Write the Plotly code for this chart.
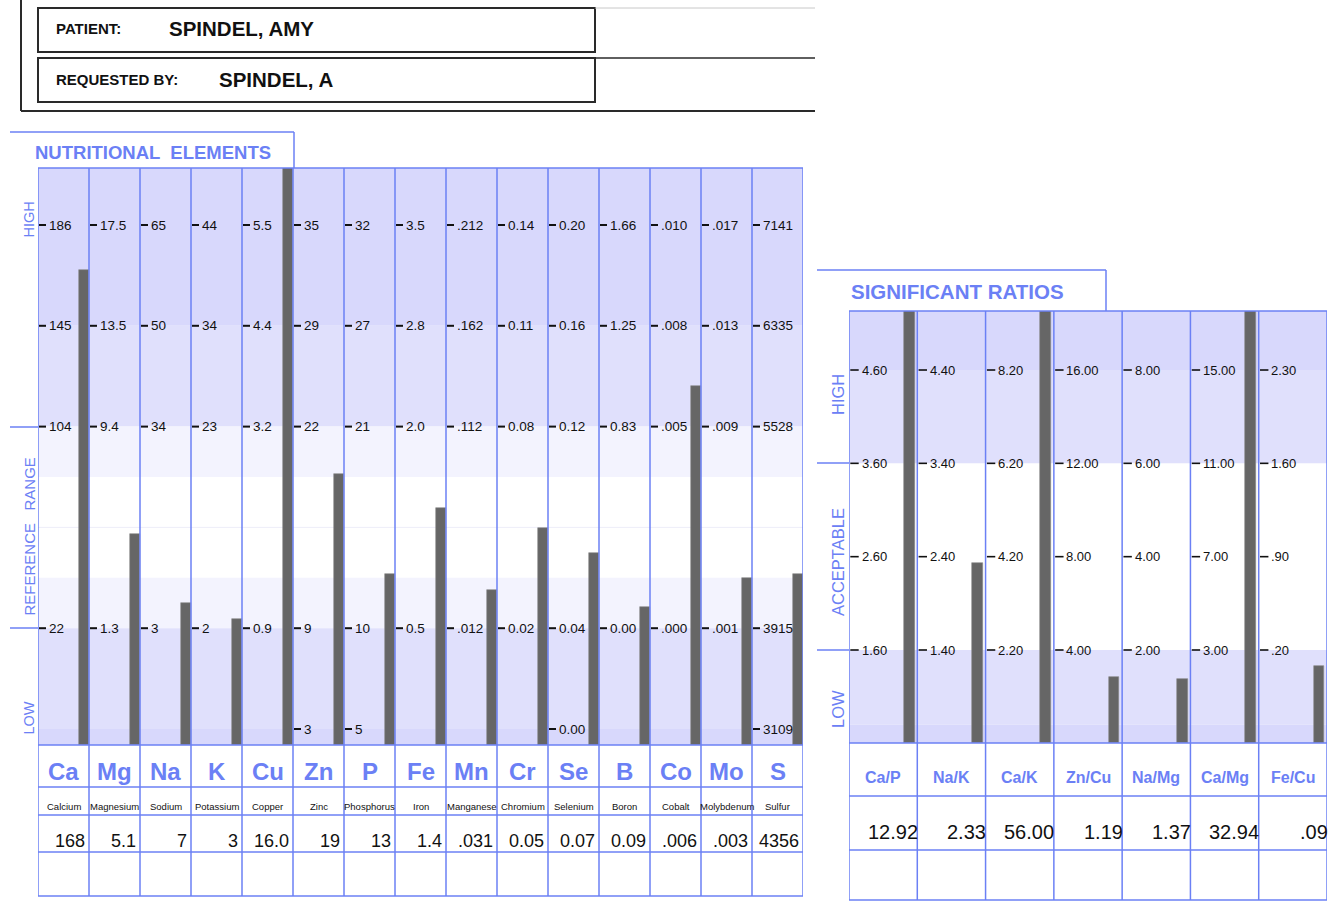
import plotly.graph_objects as go

# ---------------- data ----------------
patient_name = "SPINDEL, AMY"
requested_by = "SPINDEL, A"

elements = ["Ca", "Mg", "Na", "K", "Cu", "Zn", "P", "Fe", "Mn", "Cr", "Se", "B", "Co", "Mo", "S"]
element_names = ["Calcium", "Magnesium", "Sodium", "Potassium", "Copper", "Zinc", "Phosphorus", "Iron",
                 "Manganese", "Chromium", "Selenium", "Boron", "Cobalt", "Molybdenum", "Sulfur"]
element_results = ["168", "5.1", "7", "3", "16.0", "19", "13", "1.4", ".031", "0.05", "0.07", "0.09",
                   ".006", ".003", "4356"]
# bar top position on the graph's level scale (0 = low floor, 1 = low limit, 3 = high limit, 5 = top mark)
element_bar_level = [4.55, 1.93, 1.25, 1.09, 6.0, 2.53, 1.54, 2.19, 1.38, 1.99, 1.75, 1.21, 3.40, 1.50, 1.54]
element_tick_levels = [5, 4, 3, 1]
element_tick_labels = [
    ["186", "145", "104", "22"],
    ["17.5", "13.5", "9.4", "1.3"],
    ["65", "50", "34", "3"],
    ["44", "34", "23", "2"],
    ["5.5", "4.4", "3.2", "0.9"],
    ["35", "29", "22", "9"],
    ["32", "27", "21", "10"],
    ["3.5", "2.8", "2.0", "0.5"],
    [".212", ".162", ".112", ".012"],
    ["0.14", "0.11", "0.08", "0.02"],
    ["0.20", "0.16", "0.12", "0.04"],
    ["1.66", "1.25", "0.83", "0.00"],
    [".010", ".008", ".005", ".000"],
    [".017", ".013", ".009", ".001"],
    ["7141", "6335", "5528", "3915"],
]
element_floor_labels = {"Zn": "3", "P": "5", "Se": "0.00", "S": "3109"}

ratios = ["Ca/P", "Na/K", "Ca/K", "Zn/Cu", "Na/Mg", "Ca/Mg", "Fe/Cu"]
ratio_results = ["12.92", "2.33", "56.00", "1.19", "1.37", "32.94", ".09"]
ratio_bar_level = [4.0, 0.93, 4.0, -0.29, -0.31, 4.0, -0.17]
ratio_tick_levels = [3, 2, 1, 0]
ratio_tick_labels = [
    ["4.60", "3.60", "2.60", "1.60"],
    ["4.40", "3.40", "2.40", "1.40"],
    ["8.20", "6.20", "4.20", "2.20"],
    ["16.00", "12.00", "8.00", "4.00"],
    ["8.00", "6.00", "4.00", "2.00"],
    ["15.00", "11.00", "7.00", "3.00"],
    ["2.30", "1.60", ".90", ".20"],
]

# ---------------- geometry / style ----------------
W, H = 1344, 920
def X(px): return px / W
def Y(py): return 1 - py / H

BLUE = "#6b80f5"
BAR = "#666666"
DARK = "#d8d8fc"
MID = "#e0e0fc"
LIGHT = "#f3f3fe"
REG = "Liberation Sans, Arial, sans-serif"

# left panel pixel geometry
LX0, LX1, LYT, LYB = 38, 803, 168, 745
L_UNIT, L_ZERO = 100.8, 729
L_BOT = (L_ZERO - LYB) / L_UNIT
L_TOP = (L_ZERO - LYT) / L_UNIT
L_COLW = (LX1 - LX0) / len(elements)
# right panel pixel geometry
RX0, RX1, RYT, RYB = 849, 1327, 311, 743
R_UNIT, R_ZERO = 93.33, 650
R_BOT = (R_ZERO - RYB) / R_UNIT
R_TOP = (R_ZERO - RYT) / R_UNIT
R_COLW = (RX1 - RX0) / len(ratios)

fig = go.Figure()

# bars
nE = len(elements)
fig.add_trace(go.Bar(
    x=[i + 0.5 - 5.5 / L_COLW for i in range(nE)],
    y=[lv - L_BOT for lv in element_bar_level], base=L_BOT,
    width=10 / L_COLW, marker=dict(color=BAR, line=dict(color="#8a8a8a", width=0.6)),
    xaxis="x", yaxis="y", hoverinfo="skip", showlegend=False))
nR = len(ratios)
fig.add_trace(go.Bar(
    x=[i + 0.5 - 8.1 / R_COLW for i in range(nR)],
    y=[lv - R_BOT for lv in ratio_bar_level], base=R_BOT,
    width=10.7 / R_COLW, marker=dict(color=BAR, line=dict(color="#8a8a8a", width=0.6)),
    xaxis="x2", yaxis="y2", hoverinfo="skip", showlegend=False))

# tick dashes
lx, ly = [], []
for i, e in enumerate(elements):
    for lv in element_tick_levels:
        lx.append(i - 0.5 + 4.5 / L_COLW); ly.append(lv)
    if e in element_floor_labels:
        lx.append(i - 0.5 + 4.5 / L_COLW); ly.append(0)
fig.add_trace(go.Scatter(x=lx, y=ly, mode="markers", xaxis="x", yaxis="y",
                         marker=dict(symbol="line-ew", size=5, line=dict(color="#111", width=2)),
                         hoverinfo="skip", showlegend=False, cliponaxis=False))
rx, ry = [], []
for i in range(nR):
    for lv in ratio_tick_levels:
        rx.append(i - 0.5 + 5.5 / R_COLW); ry.append(lv)
fig.add_trace(go.Scatter(x=rx, y=ry, mode="markers", xaxis="x2", yaxis="y2",
                         marker=dict(symbol="line-ew", size=6, line=dict(color="#111", width=1.6)),
                         hoverinfo="skip", showlegend=False, cliponaxis=False))

shapes = []
annots = []

def pline(x0, y0, x1, y1, color=BLUE, width=1.5, layer="above"):
    shapes.append(dict(type="line", xref="paper", yref="paper", x0=X(x0), y0=Y(y0), x1=X(x1), y1=Y(y1),
                       line=dict(color=color, width=width), layer=layer))

def ann(x, y, text, size, color="#000", family=REG, xref="paper", yref="paper",
        xanchor="center", yanchor="middle", angle=0):
    annots.append(dict(x=x, y=y, text=text, xref=xref, yref=yref, showarrow=False,
                       xanchor=xanchor, yanchor=yanchor, textangle=angle, borderpad=0,
                       font=dict(size=size, color=color, family=family)))

# background bands
def band(xr, yr, x0, x1, y0, y1, color):
    shapes.append(dict(type="rect", xref=xr, yref=yr, x0=x0, x1=x1, y0=y0, y1=y1,
                       fillcolor=color, line=dict(width=0), layer="below"))

band("x", "y", -0.5, nE - 0.5, 4, L_TOP, DARK)
band("x", "y", -0.5, nE - 0.5, 3, 4, MID)
band("x", "y", -0.5, nE - 0.5, 2.5, 3, LIGHT)
band("x", "y", -0.5, nE - 0.5, 1, 1.5, LIGHT)
band("x", "y", -0.5, nE - 0.5, 0, 1, MID)
band("x", "y", -0.5, nE - 0.5, L_BOT, 0, DARK)
shapes.append(dict(type="line", xref="x", yref="y", x0=-0.5, x1=nE - 0.5, y0=2, y1=2,
                   line=dict(color="#ededf9", width=1), layer="below"))

band("x2", "y2", -0.5, nR - 0.5, 3, R_TOP, DARK)
band("x2", "y2", -0.5, nR - 0.5, 2, 3, MID)
band("x2", "y2", -0.5, nR - 0.5, -0.8, 0, MID)
band("x2", "y2", -0.5, nR - 0.5, R_BOT, -0.8, DARK)

# column lines
for k in range(nE + 1):
    shapes.append(dict(type="line", xref="x", yref="paper", x0=k - 0.5, x1=k - 0.5, y0=Y(896), y1=Y(LYT),
                       line=dict(color=BLUE, width=1.5)))
for k in range(nR + 1):
    shapes.append(dict(type="line", xref="x2", yref="paper", x0=k - 0.5, x1=k - 0.5, y0=Y(900), y1=Y(RYT),
                       line=dict(color=BLUE, width=1.5)))
# table horizontal lines
for yy in [LYT, LYB, 787, 815, 852, 896]:
    pline(LX0, yy, LX1, yy)
for yy in [RYT, RYB, 796, 850, 900]:
    pline(RX0, yy, RX1, yy)

# title tabs and range markers
pline(10, 132, 294, 132); pline(294, 132, 294, LYT)
pline(817, 270, 1106, 270); pline(1106, 270, 1106, RYT)
pline(10, 427, LX0, 427); pline(10, 628, LX0, 628)
pline(817, 463, RX0, 463); pline(817, 650, RX0, 650)

# header boxes
HC = "#2a2a2a"
pline(21, 0, 21, 111, HC, 2); pline(21, 111, 815, 111, HC, 2)
shapes.append(dict(type="rect", xref="paper", yref="paper", x0=X(38), x1=X(595), y0=Y(52), y1=Y(8),
                   line=dict(color=HC, width=2)))
shapes.append(dict(type="rect", xref="paper", yref="paper", x0=X(38), x1=X(595), y0=Y(102), y1=Y(58),
                   line=dict(color=HC, width=2)))
pline(595, 8, 815, 8, "#c8c8c8", 1)
pline(595, 58, 815, 58, HC, 1.5)

ann(X(55), Y(29), "<b>PATIENT:</b>", 15, "#111", xanchor="left")
ann(X(168), Y(28), "<b>" + patient_name + "</b>", 20.5, "#111", xanchor="left")
ann(X(55), Y(80), "<b>REQUESTED BY:</b>", 15, "#111", xanchor="left")
ann(X(218), Y(79), "<b>" + requested_by + "</b>", 20.5, "#111", xanchor="left")

# titles
ann(X(34), Y(153), "<b>NUTRITIONAL  ELEMENTS</b>", 18.5, BLUE, xanchor="left")
ann(X(850), Y(291), "<b>SIGNIFICANT RATIOS</b>", 20.5, BLUE, xanchor="left")

# side labels
ann(X(28.5), Y(220), "HIGH", 14.5, BLUE, angle=-90)
ann(X(28.5), Y(537), "REFERENCE   RANGE", 15, BLUE, angle=-90)
ann(X(28.5), Y(718), "LOW", 14.5, BLUE, angle=-90)
ann(X(838), Y(395), "HIGH", 16.5, BLUE, angle=-90)
ann(X(838), Y(562), "ACCEPTABLE", 16.5, BLUE, angle=-90)
ann(X(838), Y(709), "LOW", 16.5, BLUE, angle=-90)

# element tick labels and table
for i, e in enumerate(elements):
    col_left = LX0 + i * L_COLW
    col_right = col_left + L_COLW
    for lv, lab in zip(element_tick_levels, element_tick_labels[i]):
        ann(X(col_left + 9.5), lv, lab, 13.5, "#111", xref="paper", yref="y", xanchor="left")
    if e in element_floor_labels:
        ann(X(col_left + 9.5), 0, element_floor_labels[e], 13.5, "#111",
            xref="paper", yref="y", xanchor="left")
    ann(X(col_left + L_COLW / 2), Y(771), "<b>" + e + "</b>", 24, BLUE)
    ann(X(col_left + L_COLW / 2), Y(806), element_names[i], 9.5, "#111")
    ann(X(col_right - 3), Y(841), element_results[i], 18, "#111", xanchor="right")

for i, r in enumerate(ratios):
    col_left = RX0 + i * R_COLW
    col_right = col_left + R_COLW
    for lv, lab in zip(ratio_tick_levels, ratio_tick_labels[i]):
        ann(X(col_left + 11.5), lv, lab, 13, "#111", xref="paper", yref="y2", xanchor="left")
    ann(X(col_left + R_COLW / 2), Y(777), "<b>" + r + "</b>", 16, BLUE)
    ann(X(col_right + 1.5), Y(832), ratio_results[i], 20, "#111", xanchor="right")

ax_common = dict(visible=False, fixedrange=True, showgrid=False, zeroline=False)
fig.update_layout(
    width=W, height=H, margin=dict(l=0, r=0, t=0, b=0),
    paper_bgcolor="white", plot_bgcolor="rgba(0,0,0,0)",
    bargap=0, showlegend=False,
    xaxis=dict(domain=[X(LX0), X(LX1)], range=[-0.5, nE - 0.5], **ax_common),
    yaxis=dict(domain=[Y(LYB), Y(LYT)], range=[L_BOT, L_TOP], **ax_common),
    xaxis2=dict(domain=[X(RX0), X(RX1)], range=[-0.5, nR - 0.5], anchor="y2", **ax_common),
    yaxis2=dict(domain=[Y(RYB), Y(RYT)], range=[R_BOT, R_TOP], anchor="x2", **ax_common),
    shapes=shapes, annotations=annots,
)

fig.write_html("out.html", config={"displayModeBar": False},
               post_script="document.body.style.margin='0';")
